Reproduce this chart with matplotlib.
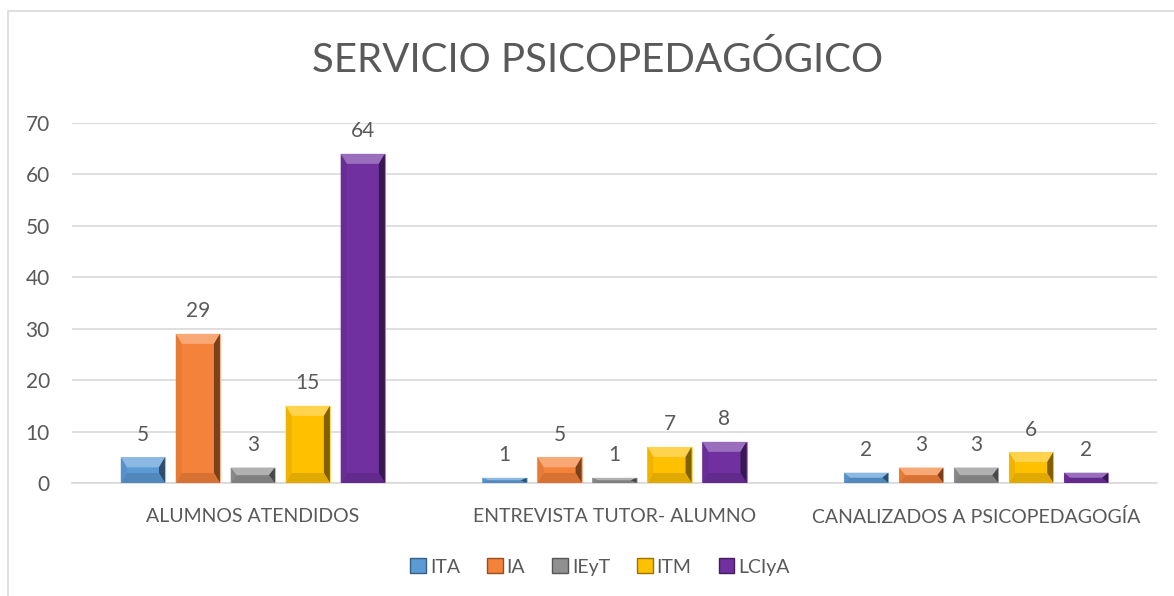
import numpy as np
import matplotlib.pyplot as plt
from matplotlib.patches import Polygon, Rectangle
from matplotlib.colors import to_rgb

categories = ["ALUMNOS ATENDIDOS", "ENTREVISTA TUTOR- ALUMNO", "CANALIZADOS A PSICOPEDAGOGÍA"]
series = ["ITA", "IA", "IEyT", "ITM", "LCIyA"]
values = {
    "ITA": [5, 1, 2],
    "IA": [29, 5, 3],
    "IEyT": [3, 1, 3],
    "ITM": [15, 7, 6],
    "LCIyA": [64, 8, 2],
}
colors = ["#5b9bd5", "#f5823a", "#909090", "#ffc000", "#7030a0"]
yticks = [0, 10, 20, 30, 40, 50, 60, 70]

plt.rcParams['font.family'] = ['Lato', 'DejaVu Sans']
txt = "#595959"

fig = plt.figure(figsize=(11.74, 5.96), dpi=100)
# marco del gráfico
fig.patches.append(Rectangle((8 / 1174, -0.1), 1.2, 1.1 - 11 / 596, transform=fig.transFigure,
                             fill=False, edgecolor="#d9d9d9", linewidth=1.2))
ax = fig.add_axes([72 / 1174, 113 / 596, (1157 - 72) / 1174, 360 / 596])

x = np.arange(len(categories))
step = 0.152
width = 0.122


def shade(c, f):
    r, g, b = to_rgb(c)
    if f > 0:
        return (r + (1 - r) * f, g + (1 - g) * f, b + (1 - b) * f)
    return (r * (1 + f), g * (1 + f), b * (1 + f))


ax.set_xlim(-0.5, len(categories) - 0.5)
ax.set_ylim(0, 70)

bars_all = []
for i, name in enumerate(series):
    pos = x + (i - 2) * step
    bars = ax.bar(pos, values[name], width, color=colors[i], edgecolor=shade(colors[i], 0.4),
                  linewidth=0.8, zorder=3)
    bars_all.append((colors[i], bars))
    for p, v in zip(pos, values[name]):
        ax.annotate(str(v), (p, v), xytext=(0, 9), textcoords="offset points",
                    ha="center", va="bottom", fontsize=15, color=txt)

# efecto biselado
fig.canvas.draw()
for c, bars in bars_all:
    for b in bars:
        (x0, y0), (x1, y1) = ax.transData.transform([(b.get_x(), 0), (b.get_x() + b.get_width(), b.get_height())])
        dy = min(10, (y1 - y0) / 2)
        dx = min(6, (x1 - x0) / 2)
        faces = [
            ([(x0, y1), (x1, y1), (x1 - dx, y1 - dy), (x0 + dx, y1 - dy)], 0.3),
            ([(x1, y1), (x1, y0), (x1 - dx, y0 + dy), (x1 - dx, y1 - dy)], -0.5),
            ([(x0, y0), (x1, y0), (x1 - dx, y0 + dy), (x0 + dx, y0 + dy)], -0.12),
            ([(x0, y1), (x0, y0), (x0 + dx, y0 + dy), (x0 + dx, y1 - dy)], -0.06),
        ]
        for pts, f in faces:
            fig.patches.append(Polygon(pts, closed=True, transform=None, facecolor=shade(c, f),
                                       edgecolor="none", zorder=4))

ax.set_yticks(yticks)
ax.set_xticks(x)
ax.set_xticklabels(categories)
ax.tick_params(axis="y", length=0, pad=16, labelsize=15, labelcolor=txt)
ax.tick_params(axis="x", length=0, pad=18, labelsize=14, labelcolor=txt)
ax.grid(axis="y", color="#d9d9d9", linewidth=1.2, zorder=0)
for s in ["left", "right", "top"]:
    ax.spines[s].set_visible(False)
ax.spines["bottom"].set_color("#d9d9d9")
ax.spines["bottom"].set_linewidth(1.2)

fig.text(598 / 1174, 1 - 60 / 596, "SERVICIO PSICOPEDAGÓGICO", ha="center", va="center",
         fontsize=29, color=txt)

handles = [Rectangle((0, 0), 1, 1, facecolor=c, edgecolor=shade(c, -0.4)) for c in colors]
fig.legend(handles, series, loc="center", bbox_to_anchor=(600 / 1174, 1 - 567 / 596), ncol=5,
           frameon=False, fontsize=14, labelcolor=txt, handlelength=0.8, handleheight=0.8,
           handletextpad=0.2, columnspacing=1.4)

fig.savefig("out.png", dpi=100)
